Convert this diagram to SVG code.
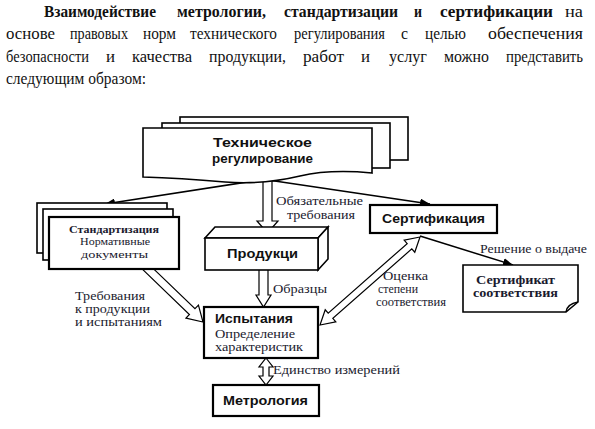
<svg xmlns="http://www.w3.org/2000/svg" width="595" height="429" viewBox="0 0 595 429">
<defs>
<style>
text{font-family:"Liberation Serif","Times New Roman",serif;fill:#111}
.para text{font-size:16px}
.b{font-weight:bold}
.sans{font-family:"Liberation Sans",Arial,sans-serif;font-weight:bold;font-size:13px}
.ser{font-size:13px;fill:#1a1a2e}
.md{font-size:12px}
.sm{font-size:11.5px}
.xs{font-size:11px}
.box{fill:#fff;stroke:#000;stroke-width:1.6}
.thick{fill:#fff;stroke:#000;stroke-width:2.2}
.hollow{fill:#fff;stroke:#000;stroke-width:1.2;stroke-linejoin:miter}
.thin{fill:none;stroke:#000;stroke-width:1.5}
</style>
<marker id="ah" viewBox="0 0 10 8" refX="10" refY="4" markerWidth="10" markerHeight="8" markerUnits="userSpaceOnUse" orient="auto">
<path d="M0,0 L10,4 L0,8 Z" fill="#000"/>
</marker>
</defs>
<rect width="595" height="429" fill="#fff"/>

<g id="paragraph" class="para">
<text class="b" x="44" y="17" textLength="112" lengthAdjust="spacingAndGlyphs">Взаимодействие</text>
<text class="b" x="177" y="17" textLength="89" lengthAdjust="spacingAndGlyphs">метрологии,</text>
<text class="b" x="284" y="17" textLength="114" lengthAdjust="spacingAndGlyphs">стандартизации</text>
<text class="b" x="414" y="17" textLength="8" lengthAdjust="spacingAndGlyphs">и</text>
<text class="b" x="440" y="17" textLength="113" lengthAdjust="spacingAndGlyphs">сертификации</text>
<text x="565" y="17" textLength="18" lengthAdjust="spacingAndGlyphs">на</text>

<text x="6" y="39" textLength="49" lengthAdjust="spacingAndGlyphs">основе</text>
<text x="70" y="39" textLength="58" lengthAdjust="spacingAndGlyphs">правовых</text>
<text x="143" y="39" textLength="33" lengthAdjust="spacingAndGlyphs">норм</text>
<text x="190" y="39" textLength="87" lengthAdjust="spacingAndGlyphs">технического</text>
<text x="294" y="39" textLength="91" lengthAdjust="spacingAndGlyphs">регулирования</text>
<text x="401" y="39" textLength="7" lengthAdjust="spacingAndGlyphs">с</text>
<text x="425" y="39" textLength="41" lengthAdjust="spacingAndGlyphs">целью</text>
<text x="488" y="39" textLength="95" lengthAdjust="spacingAndGlyphs">обеспечения</text>

<text x="6" y="62" textLength="83" lengthAdjust="spacingAndGlyphs">безопасности</text>
<text x="106" y="62" textLength="9" lengthAdjust="spacingAndGlyphs">и</text>
<text x="132" y="62" textLength="60" lengthAdjust="spacingAndGlyphs">качества</text>
<text x="209" y="62" textLength="77" lengthAdjust="spacingAndGlyphs">продукции,</text>
<text x="303" y="62" textLength="41" lengthAdjust="spacingAndGlyphs">работ</text>
<text x="361" y="62" textLength="9" lengthAdjust="spacingAndGlyphs">и</text>
<text x="389" y="62" textLength="38" lengthAdjust="spacingAndGlyphs">услуг</text>
<text x="444" y="62" textLength="45" lengthAdjust="spacingAndGlyphs">можно</text>
<text x="506" y="62" textLength="77" lengthAdjust="spacingAndGlyphs">представить</text>

<text x="6" y="84" textLength="140" lengthAdjust="spacingAndGlyphs">следующим образом:</text>
</g>

<g id="connectors">
<line class="thin" x1="260" y1="180" x2="105" y2="204" marker-end="url(#ah)"/>
<line class="thin" x1="268" y1="180" x2="430" y2="204" marker-end="url(#ah)"/>
<line class="thin" x1="420" y1="236" x2="513" y2="265" marker-end="url(#ah)"/>
<path class="hollow" d="M263,175 V221 H257 L267.5,233 L278,221 H272 V175"/>
<path class="hollow" d="M259,268 V295 H256 L263.5,307 L271,295 H268 V268"/>
<path class="hollow" d="M266,358 L273,367 H269 V376 H273 L266,385 L259,376 H263 V367 H259 Z"/>
<path class="hollow" transform="translate(203,322) rotate(43.9)" d="M-80,-4 L-15,-4 L-15,-9 L0,0 L-15,9 L-15,4 L-80,4"/>
<path class="hollow" transform="translate(370,281) rotate(-41.35)" d="M66.6,0 L52.6,-8 L52.6,-3.5 L-52.6,-3.5 L-52.6,-8 L-66.6,0 L-52.6,8 L-52.6,3.5 L52.6,3.5 L52.6,8 Z"/>
<text class="ser md" x="276" y="204.5" textLength="87" lengthAdjust="spacingAndGlyphs">Обязательные</text>
<text class="ser md" x="287" y="218.5" textLength="68" lengthAdjust="spacingAndGlyphs">требования</text>
<text class="ser" x="273" y="293" textLength="54" lengthAdjust="spacingAndGlyphs">Образцы</text>
<text class="ser" x="273" y="374" textLength="127" lengthAdjust="spacingAndGlyphs">Единство измерений</text>
<text class="ser" x="480" y="253" textLength="107" lengthAdjust="spacingAndGlyphs">Решение о выдаче</text>
<text class="ser sm" x="75" y="300" textLength="70" lengthAdjust="spacingAndGlyphs">Требования</text>
<text class="ser sm" x="75" y="313" textLength="75" lengthAdjust="spacingAndGlyphs">к продукции</text>
<text class="ser sm" x="75" y="326" textLength="87" lengthAdjust="spacingAndGlyphs">и испытаниям</text>
<text class="ser sm" x="383" y="280" textLength="45" lengthAdjust="spacingAndGlyphs">Оценка</text>
<text class="ser sm" x="378" y="293" textLength="40" lengthAdjust="spacingAndGlyphs">степени</text>
<text class="ser sm" x="376" y="306" textLength="70" lengthAdjust="spacingAndGlyphs">соответствия</text>
</g>

<g id="tech-reg">
<rect class="box" x="180" y="117" width="228" height="43"/>
<rect class="box" x="162" y="123" width="228" height="45"/>
<path class="box" d="M143,128 H372 V173 Q 330,169 300,176 Q 262,185 225,182 Q 180,178 143,177 Z"/>
<text class="sans" x="213" y="147" textLength="99" lengthAdjust="spacingAndGlyphs">Техническое</text>
<text class="sans" x="212" y="163" textLength="101" lengthAdjust="spacingAndGlyphs">регулирование</text>
</g>

<g id="standard">
<rect class="box" x="37" y="203" width="130" height="50"/>
<rect class="box" x="43" y="209" width="130" height="51"/>
<rect class="thick" x="49" y="217" width="130" height="52"/>
<text class="ser b xs" x="69" y="232.5" textLength="90" lengthAdjust="spacingAndGlyphs">Стандартизация</text>
<text class="ser xs" x="80" y="245" textLength="70" lengthAdjust="spacingAndGlyphs">Нормативные</text>
<text class="ser xs" x="81" y="257.5" textLength="67" lengthAdjust="spacingAndGlyphs">документы</text>
</g>

<g id="product">
<path class="box" d="M205,238 L215,227 H328 L318,238 Z"/>
<path class="box" d="M318,238 L328,227 V259 L318,270 Z"/>
<rect class="box" x="205" y="238" width="113" height="32"/>
<text class="sans" x="227" y="258" textLength="71" lengthAdjust="spacingAndGlyphs">Продукци</text>
</g>

<g id="certification">
<rect class="thick" x="370" y="205" width="127" height="28"/>
<text class="sans" x="382" y="223" textLength="103" lengthAdjust="spacingAndGlyphs">Сертификация</text>
</g>

<g id="certificate">
<path class="box" d="M463,265 H578 V302 L566,312 H463 Z"/>
<path class="thin" d="M566,312 Q567,304 578,302"/>
<text class="ser b sm" x="476" y="284" textLength="79" lengthAdjust="spacingAndGlyphs">Сертификат</text>
<text class="ser b sm" x="473" y="297" textLength="85" lengthAdjust="spacingAndGlyphs">соответствия</text>
</g>

<g id="testing">
<rect class="thick" x="204" y="307" width="114" height="51"/>
<text class="sans" x="215" y="322.5" textLength="78" lengthAdjust="spacingAndGlyphs">Испытания</text>
<text class="ser sm" x="215" y="337.5" textLength="80" lengthAdjust="spacingAndGlyphs">Определение</text>
<text class="ser sm" x="215" y="351" textLength="88" lengthAdjust="spacingAndGlyphs">характеристик</text>
</g>

<g id="metrology">
<rect class="thick" x="213" y="385" width="106" height="31"/>
<text class="sans" x="223" y="405" textLength="85" lengthAdjust="spacingAndGlyphs">Метрология</text>
</g>
</svg>
